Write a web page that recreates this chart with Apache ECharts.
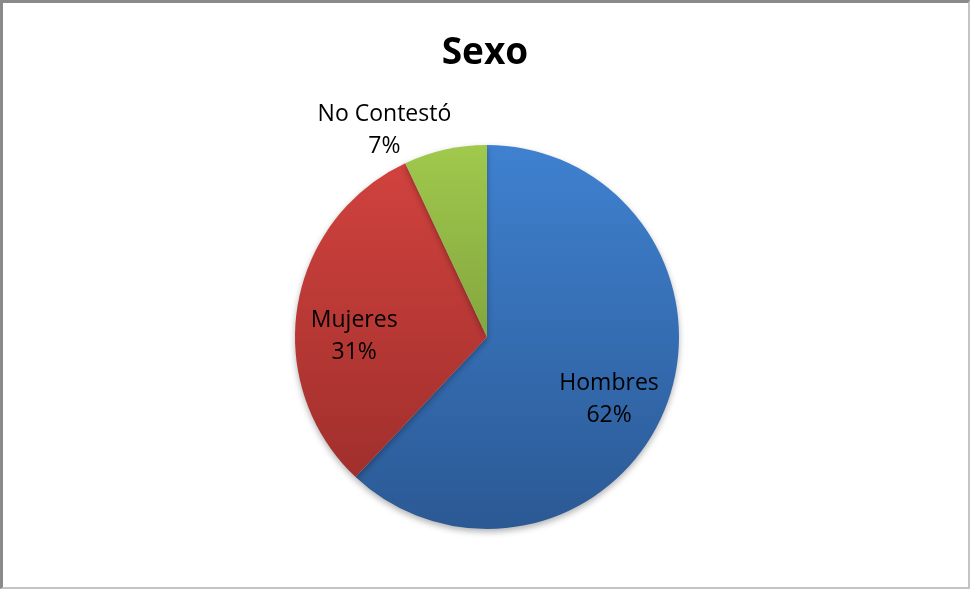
<!DOCTYPE html>
<html>
<head>
<meta charset="utf-8">
<script src="https://cdn.jsdelivr.net/npm/echarts@6/dist/echarts.min.js"></script>
<style>
  html, body { margin: 0; padding: 0; background: #fff; }
  #wrap { position: relative; width: 970px; height: 589px; }
  #chart { position: absolute; left: 0; top: 0; width: 970px; height: 589px; }
  #frame {
    position: absolute; left: 0; top: 0; width: 970px; height: 589px;
    box-sizing: border-box; pointer-events: none;
    border-left: 3px solid #8a8a8a; border-top: 3px solid #8a8a8a;
    border-right: 2px solid #c4c4c4; border-bottom: 2px solid #c4c4c4;
  }
</style>
</head>
<body>
<div id="wrap">
  <div id="chart"></div>
  <div id="frame"></div>
</div>
<script>
// Survey answers by sex (percent of respondents)
const categories = ['Hombres', 'Mujeres', 'No Contestó'];
const shares = [62, 31, 7];

// Slice fills: top and bottom stops of each vertical gradient
const topColors = ['#3f81d0', '#d3433f', '#a0c94d'];
const bottomColors = ['#2b5994', '#992c29', '#67832f'];

// Label nudges away from the default inside position
const labelNudges = [[30, 26], [-35, 15], [-81, -110]];

const CX = 487, CY = 337, R = 192;

function sliceFill(i) {
  return new echarts.graphic.LinearGradient(0, CY - R, 0, CY + R, [
    { offset: 0, color: topColors[i] },
    { offset: 1, color: bottomColors[i] }
  ], true);
}

const chart = echarts.init(document.getElementById('chart'), null, { renderer: 'canvas' });

chart.setOption({
  animation: false,
  title: {
    text: 'Sexo',
    left: 'center',
    top: 30,
    textStyle: { fontFamily: 'Open Sans', fontWeight: 'bold', fontSize: 37, color: '#000' }
  },
  series: [{
    type: 'pie',
    center: [CX, CY],
    radius: [0, R],
    startAngle: 90,
    clockwise: true,
    avoidLabelOverlap: false,
    itemStyle: {
      borderWidth: 0,
      shadowBlur: 6,
      shadowOffsetY: 3,
      shadowColor: 'rgba(0,0,0,0.30)'
    },
    emphasis: { disabled: true },
    label: {
      show: true,
      position: 'inside',
      formatter: '{b}\n{d}%',
      fontFamily: 'Open Sans',
      fontSize: 23,
      lineHeight: 32,
      color: '#000',
      align: 'center'
    },
    labelLine: { show: false },
    labelLayout: function (p) {
      const n = labelNudges[p.dataIndex];
      return { dx: n[0], dy: n[1] };
    },
    data: categories.map((name, i) => ({
      name: name,
      value: shares[i],
      itemStyle: { color: sliceFill(i) }
    }))
  }]
});
</script>
</body>
</html>
